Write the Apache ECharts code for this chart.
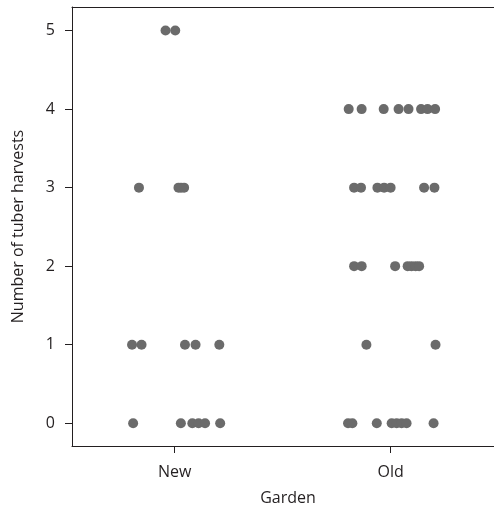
<!DOCTYPE html>
<html>
<head>
<meta charset="utf-8">
<script src="https://cdn.jsdelivr.net/npm/echarts@6/dist/echarts.min.js"></script>
<style>html,body{margin:0;padding:0;background:#fff;overflow:hidden}#c{width:494px;height:508px}</style>
</head>
<body>
<div id="c"></div>
<script>
// Categories (x positions 1 and 2), tick labels
var categories = ['New', 'Old'];
var yTicks = [0, 1, 2, 3, 4, 5];

// Garden "New": jittered x position and number of harvests
var newX = [0.958, 1.003, 0.835, 1.018, 1.030, 1.044, 0.803, 0.847, 1.048, 1.097, 1.207, 0.808, 1.029, 1.082, 1.111, 1.141, 1.211];
var newY = [5, 5, 3, 3, 3, 3, 1, 1, 1, 1, 1, 0, 0, 0, 0, 0, 0];

// Garden "Old"
var oldX = [1.806, 1.866, 1.968, 2.037, 2.083, 2.141, 2.171, 2.206,
            1.831, 1.863, 1.939, 1.970, 2.000, 2.155, 2.203,
            1.831, 1.866, 2.021, 2.079, 2.097, 2.116, 2.132,
            1.888, 2.208,
            1.803, 1.823, 1.936, 2.005, 2.028, 2.051, 2.074, 2.199];
var oldY = [4, 4, 4, 4, 4, 4, 4, 4,
            3, 3, 3, 3, 3, 3, 3,
            2, 2, 2, 2, 2, 2, 2,
            1, 1,
            0, 0, 0, 0, 0, 0, 0, 0];

function pairs(xs, ys) { return xs.map(function (x, i) { return [x, ys[i]]; }); }

var font = 'Open Sans';
var txt = '#231f20';
var line = '#231f20';
var chart = echarts.init(document.getElementById('c'), null, { renderer: 'canvas' });
chart.setOption({
  animation: false,
  grid: { left: 72, top: 7, right: -10, bottom: 62, containLabel: false, outerBoundsMode: 'none', show: false },
  xAxis: [{
    type: 'value', min: 0.525, max: 2.525,
    name: 'Garden', nameLocation: 'middle', nameGap: 44,
    nameTextStyle: { fontFamily: font, fontSize: 16, color: txt },
    axisLine: { show: true, onZero: false, lineStyle: { color: line } },
    axisTick: { show: true, length: 7, customValues: [1, 2], lineStyle: { color: line } },
    axisLabel: { customValues: [1, 2], margin: 18, fontFamily: font, fontSize: 16, color: txt,
      formatter: function (v) { return categories[Math.round(v) - 1] || ''; } },
    splitLine: { show: false }
  }, {
    type: 'value', position: 'top', min: 0.525, max: 2.525,
    axisLine: { show: true, onZero: false, lineStyle: { color: line } },
    axisTick: { show: false }, axisLabel: { show: false }, splitLine: { show: false }
  }],
  yAxis: {
    type: 'value', min: -0.29, max: 5.30,
    name: 'Number of tuber harvests', nameLocation: 'middle', nameGap: 46,
    nameTextStyle: { fontFamily: font, fontSize: 16, color: txt },
    axisLine: { show: true, onZero: false, lineStyle: { color: line } },
    axisTick: { show: true, length: 7, customValues: yTicks, lineStyle: { color: line } },
    axisLabel: { customValues: yTicks, margin: 17, fontFamily: font, fontSize: 16, color: txt,
      formatter: function (v) { return String(Math.round(v)); } },
    splitLine: { show: false }
  },
  series: [
    { type: 'scatter', xAxisIndex: 0, data: pairs(newX, newY), symbolSize: 10, itemStyle: { color: '#6b6b6b', opacity: 1 } },
    { type: 'scatter', xAxisIndex: 0, data: pairs(oldX, oldY), symbolSize: 10, itemStyle: { color: '#6b6b6b', opacity: 1 } }
  ]
});
</script>
</body>
</html>
